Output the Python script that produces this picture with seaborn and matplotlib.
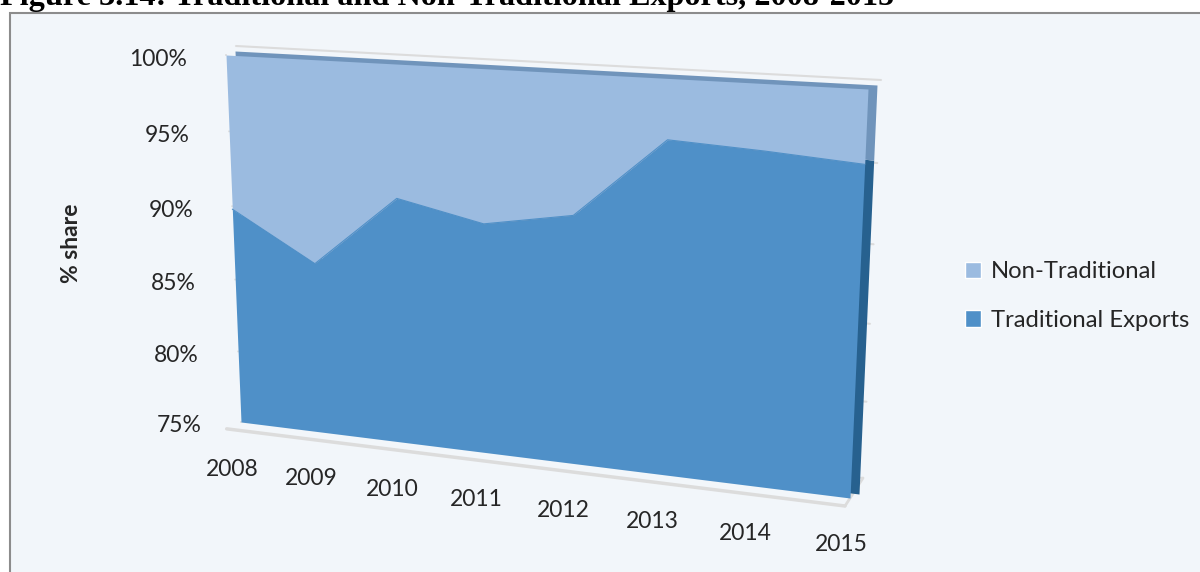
import numpy as np
import pandas as pd
import seaborn as sns
import matplotlib
matplotlib.use('Agg')
import matplotlib.pyplot as plt
import matplotlib.transforms as mtransforms
from matplotlib.patches import Patch, Rectangle


# data (share of exports, %)
years = ['2008', '2009', '2010', '2011', '2012', '2013', '2014', '2015']
traditional = [89.8, 86.6, 91.4, 90.2, 91.2, 96.3, 96.0, 95.6]
non_traditional = [10.2, 13.4, 8.6, 9.8, 8.8, 3.7, 4.0, 4.4]
y_ticks = [75, 80, 85, 90, 95, 100]
y_tick_labels = ['75%', '80%', '85%', '90%', '95%', '100%']

df = pd.DataFrame({'year': years, 'idx': np.arange(len(years)),
                   'traditional': traditional,
                   'non_traditional': non_traditional})
df['top'] = df['traditional'] + df['non_traditional']


# perspective (fake 3d) of the excel chart: corners of front face in pixels
def homography(src, dst):
    A, b = [], []
    for (u, v), (x, y) in zip(src, dst):
        A.append([u, v, 1, 0, 0, 0, -u * x, -v * x]); b.append(x)
        A.append([0, 0, 0, u, v, 1, -u * y, -v * y]); b.append(y)
    h = np.linalg.solve(np.array(A, float), np.array(b, float))
    return np.append(h, 1).reshape(3, 3)


class Perspective(mtransforms.Transform):
    input_dims = 2
    output_dims = 2
    is_separable = False

    def __init__(self, M):
        super().__init__()
        self.M = M

    def transform_non_affine(self, values):
        pts = np.asarray(values, float).reshape(-1, 2)
        h = np.c_[pts, np.ones(len(pts))] @ self.M.T
        return h[:, :2] / h[:, 2:3]


n = len(years) - 1
front_M = homography([(0, 100), (0, 75), (n, 100), (n, 75)],
                     [(226, 55), (241, 422), (868, 89), (850, 498)])
wall_M = homography([(0, 100), (0, 75), (n, 100), (n, 75)],
                    [(236, 46), (250, 418), (881, 80), (863, 478)])

sns.set_theme(style='white')
plt.rcParams['font.family'] = ['Lato', 'DejaVu Sans']

fig = plt.figure(figsize=(12, 5.72), dpi=100, facecolor='white')
ax = fig.add_axes([0, 0, 1, 1])
ax.set_axis_off()

front = Perspective(front_M) + ax.transData
back = Perspective(front_M) + mtransforms.Affine2D().translate(9, -4) + ax.transData
wall = Perspective(wall_M) + ax.transData
floor = Perspective(front_M) + mtransforms.Affine2D().translate(-5, 8) + ax.transData

# chart box
ax.add_patch(Rectangle((10, 13), 1200, 600, facecolor='#F2F6FA',
                       edgecolor='#8C8C8C', lw=1.5, zorder=0))

grid_c = '#DCDCDC'
# back wall gridlines (only ends peek out)
for v in y_ticks:
    ax.plot([0, n], [v, v], color=grid_c, lw=1.5, transform=wall, zorder=1)

# floor
ax.plot([-0.12, n], [75, 75], color=grid_c, lw=2.5, transform=floor, zorder=1)
inv = ax.transData.inverted()
fr = inv.transform(floor.transform((n, 75)))
bk = inv.transform(wall.transform((n, 75)))
ax.plot([fr[0], bk[0]], [fr[1], bk[1]], color=grid_c, lw=2, zorder=1)

# left ticks
tick_out = mtransforms.Affine2D().translate(-13, -3)
for v in y_ticks:
    a = inv.transform(front.transform((0, v)))
    b = inv.transform((front + tick_out).transform((0, v)))
    ax.plot([a[0], b[0]], [a[1], b[1]], color=grid_c, lw=1.5, zorder=1)

# depth of the slab (top and right side)
ax.fill_between(df['idx'], 75, df['traditional'], color='#27618F',
                lw=0, transform=back, zorder=2)
ax.fill_between(df['idx'], df['traditional'], df['top'], color='#7094BB',
                lw=0, transform=back, zorder=2)

# front faces
ax.fill_between(df['idx'], 75, df['traditional'], color='#4F90C8',
                lw=0, transform=front, zorder=3)
ax.fill_between(df['idx'], df['traditional'], df['top'], color='#9BBBE0',
                lw=0, transform=front, zorder=3)
sns.lineplot(data=df, x='idx', y='traditional', color='#4F90C8', lw=0.8,
             transform=front, ax=ax, zorder=4, legend=False)

ax.set_xlim(0, 1200)
ax.set_ylim(572, 0)
ax.set_axis_off()

# y tick labels
for v, lab in zip(y_ticks, y_tick_labels):
    ax.annotate(lab, (0, v), xycoords=front, xytext=(-39, -4),
                textcoords='offset pixels', ha='right', va='center',
                fontsize=16.5, color='#262626')

# year labels along the floor
for i, yr in enumerate(years):
    ax.annotate(yr, (i, 75), xycoords=front, xytext=(-9, -47),
                textcoords='offset pixels', ha='center', va='center',
                fontsize=16.5, color='#262626')

fig.text(72 / 1200, 1 - 243 / 572, '% share', rotation=90, ha='center',
         va='center', fontsize=16.5, fontweight='bold', color='#262626')

handles = [Patch(facecolor='#9BBBE0', label='Non-Traditional'),
           Patch(facecolor='#4F90C8', label='Traditional Exports')]
fig.legend(handles=handles, loc='center left',
           bbox_to_anchor=(943 / 1200, 1 - 296 / 572), frameon=False,
           fontsize=17.2, handlelength=0.7, handleheight=0.7,
           handletextpad=0.4, labelspacing=1.15, labelcolor='#262626')

fig.text(0, 1 - 5 / 572, 'Figure 3.14: Traditional and Non-Traditional Exports, 2008-2015',
         family='Liberation Serif', fontweight='bold', fontsize=23.2,
         va='baseline', ha='left', color='black')

fig.savefig('out.png', dpi=100, facecolor='white')
